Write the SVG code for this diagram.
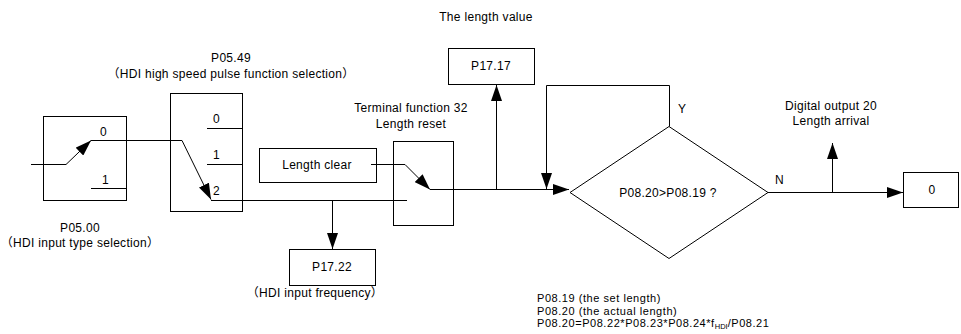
<svg xmlns="http://www.w3.org/2000/svg" width="961" height="334" viewBox="0 0 961 334">
<defs>
<marker id="arr" markerUnits="userSpaceOnUse" markerWidth="16" markerHeight="11" refX="16" refY="5.5" orient="auto">
<path d="M0,0 L16,5.5 L0,11 z" fill="#000"/>
</marker>
<style>
.box{fill:#fff;stroke:#000;stroke-width:1}
.ln{fill:none;stroke:#000;stroke-width:1}
.ar{fill:none;stroke:#000;stroke-width:1;marker-end:url(#arr)}
text{font-family:"Liberation Sans","Noto Sans CJK SC",Arial,sans-serif;font-size:12px;letter-spacing:0.3px;fill:#000}
.m{text-anchor:middle}
.note{font-size:11px;letter-spacing:0.55px}
</style>
</defs>
<rect width="961" height="334" fill="#fff"/>

<g id="sw1">
<rect class="box" x="43.5" y="116.5" width="83" height="84"/>
<line class="ln" x1="91" y1="188.5" x2="126.5" y2="188.5"/>
<text x="100" y="136">0</text>
<text x="102" y="184">1</text>
<text class="m" x="80" y="232">P05.00</text>
<text class="m" x="80" y="247">（HDI input type selection）</text>
</g>

<g id="sw2">
<rect class="box" x="170.5" y="93.5" width="72" height="118"/>
<line class="ln" x1="207" y1="128.5" x2="242.5" y2="128.5"/>
<line class="ln" x1="207" y1="164.5" x2="242.5" y2="164.5"/>
<text x="213" y="123">0</text>
<text x="213" y="159">1</text>
<text x="213" y="195">2</text>
<text class="m" x="231" y="62">P05.49</text>
<text class="m" x="231" y="78">（HDI high speed pulse function selection）</text>
</g>

<g id="clear">
<rect class="box" x="259.5" y="148.5" width="117" height="34"/>
<text class="m" x="317" y="169">Length clear</text>
</g>

<g id="term">
<rect class="box" x="393.5" y="141.5" width="60" height="84"/>
<text class="m" x="411" y="112">Terminal function 32</text>
<text class="m" x="411" y="128">Length reset</text>
</g>

<g id="p1722">
<rect class="box" x="289.5" y="249.5" width="86" height="36"/>
<text class="m" x="332" y="271">P17.22</text>
<text class="m" x="315" y="297">（HDI input frequency）</text>
</g>

<g id="p1717">
<rect class="box" x="448.5" y="48.5" width="86" height="36"/>
<text class="m" x="491" y="70">P17.17</text>
<text class="m" x="486" y="21">The length value</text>
</g>

<g id="cond">
<polygon class="box" points="570,192.5 669,126.5 768,192.5 669,258.5"/>
<text class="m" x="668" y="197">P08.20&gt;P08.19 ?</text>
<text x="678" y="113">Y</text>
<text x="775" y="184">N</text>
</g>

<g id="dout">
<text class="m" x="831" y="110">Digital output 20</text>
<text class="m" x="831" y="125">Length arrival</text>
</g>

<g id="zero">
<rect class="box" x="903.5" y="172.5" width="55" height="35"/>
<text class="m" x="932" y="194">0</text>
</g>

<g id="notes">
<text class="note" x="537" y="302">P08.19 (the set length)</text>
<text class="note" x="537" y="314.5">P08.20 (the actual length)</text>
<text class="note" x="537" y="327">P08.20=P08.22*P08.23*P08.24*f<tspan font-size="7.5" dy="2" letter-spacing="0">HDI</tspan><tspan dy="-2">/P08.21</tspan></text>
</g>

<g id="connectors">
<polyline class="ar" points="31,164.5 66,164.5 91,140.5"/>
<polyline class="ar" points="91,140.5 182,140.5 211,199.5"/>
<line class="ln" x1="211" y1="200.5" x2="407" y2="200.5"/>
<line class="ar" x1="332.5" y1="200.5" x2="332.5" y2="249"/>
<polyline class="ar" points="371,164.5 405,164.5 430,189.5"/>
<line class="ar" x1="430" y1="189.5" x2="569" y2="189.5"/>
<line class="ar" x1="496.5" y1="189.5" x2="496.5" y2="85"/>
<polyline class="ar" points="669.5,126.5 669.5,85.5 546.5,85.5 546.5,189"/>
<line class="ar" x1="768" y1="192.5" x2="903" y2="192.5"/>
<line class="ar" x1="832.5" y1="192.5" x2="832.5" y2="143"/>
</g>
</svg>
